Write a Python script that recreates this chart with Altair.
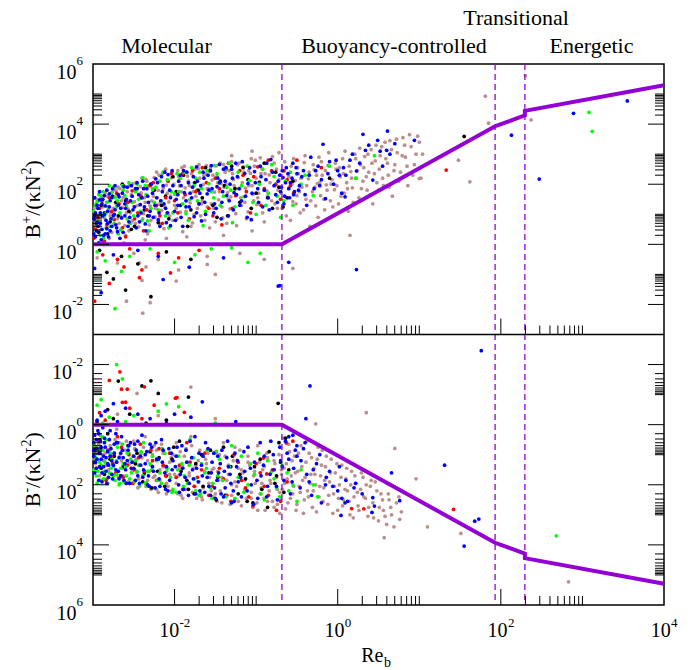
import altair as alt
import pandas as pd

FONT = "Liberation Serif"
VIOLET = "#9400d3"
SERIES_NAMES = ["brown", "black", "red", "green", "blue"]
SERIES_COLORS = ["#bc8f8f", "#000000", "#ff0000", "#00ff00", "#0000ff"]

W, PH = 571, 270.5
H = 2 * PH

# regime boundaries (Re_b) and model curve
regime_bounds = [0.207, 85.0, 197.0]
model_re = [1e-3, 0.207, 85.0, 197.0, 197.0, 1e4]
model_b = [1.0, 1.0, 8.5e3, 1.95e4, 2.75e4, 1.95e5]

# axis ticks / labels
x_decades = [1e-2, 1.0, 1e2]
y_decades = [1e-2, 1.0, 1e2, 1e4]
minor_mult = [2, 3, 4, 5, 6, 7, 8, 9, 10]
x_label_vals = [1e-2, 1.0, 1e2, 1e4]
x_label_exp = ["-2", "0", "2", "4"]
y_label_vals = [1e-2, 1.0, 1e2, 1e4, 1e6]
y_label_exp = ["-2", "0", "2", "4", "6"]

# scatter data: pairs of (log10 Re_b, log10 B)
top_brown = """
-2.98 1.21, -2.93 0.45, -2.90 1.62, -2.86 0.88, -2.83 1.40, -2.80 0.20, -2.78 1.05, -2.76 1.75,
-2.74 0.66, -2.71 1.33, -2.69 1.90, -2.66 0.95, -2.63 1.55, -2.60 0.30, -2.57 1.18, -2.55 1.97, -2.52 0.78,
-2.49 1.42, -2.47 2.05, -2.44 0.58, -2.41 1.71, -2.38 1.02, -2.35 2.16, -2.33 0.35, -2.30 1.28, -2.27 1.86,
-2.24 0.91, -2.21 1.55, -2.19 2.30, -2.16 1.13, -2.13 0.52, -2.10 1.97, -2.07 1.41, -2.04 2.21, -2.02 0.80,
-1.99 1.66, -1.96 2.45, -1.93 1.07, -1.90 0.42, -1.87 1.88, -1.84 2.27, -1.81 1.38, -1.78 0.71, -1.76 2.05,
-1.74 1.60, -1.71 2.52, -1.68 0.95, -1.65 1.99, -1.62 2.35, -1.60 1.25, -1.57 0.55, -1.54 2.14, -1.51 1.74,
-1.49 2.61, -1.46 1.48, -1.43 2.02, -1.41 0.88, -1.38 2.40, -1.35 1.72, -1.32 1.18, -1.30 2.75, -1.27 1.95,
-1.24 0.62, -1.22 2.22, -1.19 1.55, -1.16 2.58, -1.13 1.87, -1.10 1.08, -1.07 2.36, -1.04 1.66, -1.01 2.80,
-0.99 1.32, -0.96 2.08, -0.93 2.52, -0.90 0.75, -0.87 1.78, -0.84 2.31, -0.81 1.45, -0.78 2.70, -0.76 1.96,
-0.74 1.20, -0.72 2.15, -0.69 1.70, -0.66 2.45, -0.63 0.95, -0.60 1.88, -0.57 2.60, -0.55 1.42, -0.52 2.12,
-0.50 1.62, -0.48 2.35, -0.46 1.05, -0.44 1.90, -0.41 2.72, -0.39 1.50, -0.36 2.18, -0.34 0.60, -0.31 1.75,
-0.29 2.48, -0.27 1.28, -0.25 2.02, -0.23 2.90, -0.21 1.62, -0.19 2.30, -0.16 1.15, -0.14 1.98, -0.12 2.62,
-0.09 1.45, -0.07 2.15, -0.04 1.82, -0.02 2.50, 0.01 1.35, 0.03 2.25, 0.06 2.85, 0.08 1.70, 0.11 2.05,
0.13 1.10, 0.16 2.42, 0.18 1.88, 0.21 3.00, 0.23 2.20, 0.26 1.55, 0.28 2.65, 0.31 2.10, 0.33 2.92,
0.36 1.80, 0.38 2.40, 0.41 3.15, 0.43 1.35, 0.46 2.78, 0.48 2.05, 0.51 2.50, 0.54 3.25, 0.56 1.95,
0.59 2.85, 0.62 2.30, 0.64 3.45, 0.67 1.60, 0.70 2.65, 0.73 3.05, 0.77 2.40, 0.80 3.55, 0.83 2.90,
0.86 1.95, 0.90 3.25, 0.94 2.65, 0.98 3.60, 1.02 2.20, 1.04 3.00, -1.05 3.10, -0.72 3.05, -1.30 2.95,
1.00 2.19, 1.48 2.80, 1.62 2.08, 1.81 4.93, 1.85 4.03, 2.30 5.61, 2.37 4.14,
-2.95 -0.45, -2.70 -0.62, -2.50 -0.30, -2.35 -0.75, -2.20 -0.50, -1.95 -0.85, -1.60 -0.40,
-1.50 -1.00, -1.20 -0.30, -0.55 -0.80, 0.15 0.30, -0.90 -0.50, -2.40 -1.20,
-2.43 -0.62, -2.59 -1.89, -2.39 -2.29, -2.30 -1.94, -1.98 -1.22, -1.60 -0.67
"""
top_brown2 = """
-2.97 0.62, -2.94 1.48, -2.89 0.95, -2.85 1.72, -2.81 1.15, -2.77 0.40, -2.73 1.58, -2.70 0.85, -2.67 1.85,
-2.64 1.22, -2.61 0.62, -2.58 1.75, -2.54 1.05, -2.51 2.02, -2.48 0.70, -2.45 1.30, -2.42 1.92, -2.39 0.85,
-2.37 1.55, -2.34 2.10, -2.31 0.65, -2.28 1.45, -2.25 2.22, -2.23 1.20, -2.20 1.80, -2.17 0.68, -2.15 2.35,
-2.12 1.25, -2.09 1.70, -2.06 0.95, -2.03 2.40, -2.00 1.30, -1.97 0.85, -1.94 1.95, -1.91 2.55, -1.89 1.55,
-1.86 1.10, -1.83 2.10, -1.80 0.60, -1.77 1.75, -1.75 2.50, -1.72 1.20, -1.69 2.20, -1.66 1.45, -1.63 0.80,
-1.61 2.62, -1.58 1.85, -1.55 1.35, -1.53 2.30, -1.50 0.75, -1.47 2.05, -1.44 2.70, -1.42 1.25, -1.39 1.90,
-1.36 0.70, -1.33 2.45, -1.31 1.58, -1.28 2.15, -1.25 1.02, -1.23 2.65, -1.20 1.85, -1.18 1.30, -1.15 2.40,
-1.12 0.85, -1.09 1.95, -1.06 2.85, -1.03 1.45, -1.00 2.20, -0.97 1.70, -0.95 2.88, -0.92 1.05, -0.89 2.35,
-0.86 1.60, -0.83 2.05, -0.80 2.92, -0.77 1.35, -0.75 2.50, -0.73 1.80, -0.70 2.30, -0.68 1.20, -0.65 2.75,
-0.62 1.55, -0.60 2.25, -0.58 0.80, -0.56 2.00, -0.54 2.85, -0.51 1.35, -0.49 2.55, -0.47 1.75, -0.45 2.20,
-0.42 1.15, -0.40 2.95, -0.38 1.95, -0.35 2.40, -0.33 1.45, -0.30 2.65, -0.28 1.90, -0.26 2.30, -0.24 0.90,
-0.22 2.05, -0.20 2.75, -0.17 1.50, -0.15 2.45, -0.13 1.80, -0.11 3.05, -0.08 2.00, -0.06 1.25, -0.03 2.70,
-0.01 1.95, 0.02 2.55, 0.04 1.60, 0.07 2.35, 0.09 3.10, 0.12 1.85, 0.14 2.60, 0.17 2.20, 0.19 1.40,
0.22 2.85, 0.24 2.45, 0.27 3.20, 0.29 1.85, 0.32 2.55, 0.35 2.25, 0.37 3.00, 0.40 1.65, 0.42 2.70,
0.45 2.35, 0.47 3.30, 0.50 1.80, 0.52 2.95, 0.55 2.20, 0.58 3.40, 0.61 2.70, 0.63 1.90, 0.66 3.15,
0.69 2.45, 0.72 3.50, 0.75 2.10, 0.79 2.95, 0.82 3.30, 0.85 2.60, 0.88 3.65, 0.92 2.30, 0.96 3.00, 1.00 3.40,
-2.88 0.10, -2.62 0.05, -2.36 0.15, -2.10 0.20, -1.85 0.25, -1.40 0.30, -1.05 0.45
"""
top_brown3 = """
-2.99 0.80, -2.96 1.35, -2.92 0.60, -2.88 1.25, -2.84 0.55, -2.82 1.60, -2.79 0.95, -2.75 1.20, -2.72 1.80,
-2.68 0.70, -2.65 1.45, -2.62 1.95, -2.59 1.05, -2.56 0.45, -2.53 1.65, -2.50 1.25, -2.46 1.85, -2.43 1.00,
-2.40 2.20, -2.36 1.40, -2.32 1.95, -2.29 0.80, -2.26 1.60, -2.22 2.40, -2.18 1.35, -2.14 1.85, -2.11 2.50,
-2.08 1.05, -2.05 1.60, -2.01 2.00, -1.98 1.20, -1.95 2.25, -1.92 1.75, -1.88 2.60, -1.85 1.45, -1.82 1.95,
-1.79 2.35, -1.76 1.00, -1.73 1.80, -1.70 2.65, -1.67 1.35, -1.64 2.30, -1.60 1.85, -1.56 2.55, -1.52 1.20,
-1.48 2.25, -1.45 1.75, -1.40 2.65, -1.37 2.00, -1.34 1.50, -1.29 2.35, -1.26 1.85, -1.21 2.70, -1.17 2.05,
-1.14 1.40, -1.09 2.45, -1.05 1.95, -1.02 2.60, -0.98 1.55, -0.94 2.35
"""
top_blue = """
-2.99 0.35, -2.97 1.05, -2.95 0.72, -2.92 1.48, -2.90 0.15, -2.88 0.95, -2.85 1.28, -2.83 0.52, -2.80 1.68,
-2.78 0.85, -2.73 1.15, -2.70 0.42, -2.68 1.58, -2.65 0.88, -2.62 1.92, -2.60 1.20, -2.57 0.60, -2.54 1.45,
-2.48 1.85, -2.45 0.95, -2.42 1.32, -2.39 2.10, -2.36 0.68, -2.33 1.60, -2.30 1.10, -2.23 2.18, -2.20 0.82,
-2.17 1.45, -2.14 1.95, -2.11 1.20, -2.08 2.32, -2.05 0.62, -1.98 1.50, -1.95 2.10, -1.92 0.90, -1.88 1.72,
-1.85 2.40, -1.82 1.25, -1.78 1.90, -1.73 2.58, -1.70 1.35, -1.67 0.78, -1.64 2.20, -1.60 1.68, -1.56 2.45,
-1.52 1.05, -1.48 1.92, -1.45 2.66, -1.42 1.40, -1.38 2.10, -1.34 0.95, -1.30 2.50, -1.27 1.72, -1.23 2.25,
-1.20 1.30, -1.17 2.75, -1.13 1.60, -1.10 2.02, -1.06 0.82, -1.02 2.42, -0.98 1.85, -0.95 2.60, -0.92 1.25,
-0.88 2.15, -0.85 1.55, -0.82 2.82, -0.78 1.95, -0.74 1.40, -0.71 2.30, -0.69 1.90, -0.67 2.22, -0.65 1.60,
-0.63 2.55, -0.60 1.85, -0.58 2.05, -0.55 2.70, -0.53 1.75, -0.50 2.35, -0.47 1.95, -0.42 2.45, -0.38 1.30,
-0.33 2.90, -0.29 1.85, -0.24 2.60, -0.20 2.15, -0.15 1.52, -0.10 2.75, -0.05 2.00, 0.00 2.45, 0.05 1.70,
0.10 2.30, -0.18 3.33, 0.31 3.66, 0.49 3.46, 0.61 3.77, 0.60 3.13, 0.34 3.13, 0.94 3.46, 0.23 2.44,
0.09 1.58, 0.43 2.14, 0.02 2.30, 0.64 3.00, 0.15 2.80, 0.55 2.60,
2.13 3.63, 2.47 2.17, 2.89 4.36, 3.55 4.77,
-2.90 -1.61, -2.14 -1.17, -1.82 -0.76, -0.60 -0.60, -0.73 -1.39, -2.75 -0.35, -2.45 -0.20, -1.40 -0.45,
-0.71 -1.37, 0.23 -0.84, -2.98 -0.80, -2.20 -0.40
"""
top_blue2 = """
-2.99 0.85, -2.98 1.55, -2.96 0.45, -2.94 1.20, -2.93 0.05, -2.91 0.70, -2.89 1.35, -2.87 0.30, -2.86 1.62,
-2.84 0.80, -2.82 1.10, -2.81 0.25, -2.79 1.45, -2.77 0.60, -2.76 1.85, -2.74 1.00, -2.72 0.65, -2.69 1.30,
-2.67 0.20, -2.64 1.70, -2.61 0.95, -2.59 1.50, -2.56 0.75, -2.53 1.95, -2.51 1.15, -2.47 0.55, -2.44 1.65,
-2.41 1.05, -2.38 1.85, -2.35 0.45, -2.32 1.40, -2.29 2.00, -2.26 0.90, -2.22 1.55, -2.19 1.05, -2.16 2.25,
-2.13 1.35, -2.10 0.72, -2.06 1.80, -2.03 2.45, -2.00 1.10, -1.96 1.65, -1.93 2.30, -1.90 0.60, -1.86 1.45,
-1.83 2.05, -1.79 1.55, -1.76 0.92, -1.72 2.10, -1.69 1.70, -1.65 2.40, -1.62 1.00, -1.58 1.80, -1.55 2.62,
-1.51 1.35, -1.47 2.20, -1.43 0.85, -1.40 2.50, -1.36 1.62, -1.32 2.00, -1.28 1.15, -1.25 2.70, -1.21 1.85,
-1.18 1.45, -1.14 2.35, -1.11 0.90, -1.08 2.55, -1.05 1.70, -1.01 2.05, -0.97 1.40, -0.94 2.25, -0.90 1.80,
-0.87 2.70, -0.84 1.15, -0.80 2.40, -0.76 1.65, -0.73 2.10, -0.70 1.75, -0.68 2.45, -0.66 1.35, -0.64 2.05,
-0.61 2.35, -0.59 1.55, -0.56 2.20, -0.54 1.65, -0.51 2.55, -0.48 1.80, -0.44 2.25, -0.40 1.65, -0.35 2.30,
-0.27 2.45, -0.22 1.95, -0.12 2.35, -0.02 2.80, 0.07 2.55, 0.18 3.00, 0.27 2.70, 0.38 3.30, 0.52 3.10, 0.70 3.35
"""
top_blue3 = """
-2.98 0.95, -2.97 0.25, -2.95 1.30, -2.94 0.60, -2.92 1.75, -2.91 1.05, -2.89 0.50, -2.88 1.50, -2.86 1.00,
-2.85 0.35, -2.83 1.80, -2.82 0.70, -2.80 1.25, -2.79 0.45, -2.77 1.55, -2.75 0.95, -2.73 1.95, -2.71 0.55,
-2.69 1.65, -2.66 1.20, -2.63 0.40, -2.61 1.35, -2.58 1.90, -2.55 0.90, -2.52 1.60, -2.49 1.25, -2.46 2.05,
-2.43 0.75, -2.40 1.55, -2.37 1.25, -2.34 1.85, -2.31 0.95, -2.27 1.70, -2.24 1.30, -2.21 2.05, -2.18 0.60,
-2.15 1.75, -2.12 2.40, -2.09 1.05, -2.05 1.55, -2.02 1.95, -1.99 0.80, -1.96 1.30, -1.92 1.95, -1.89 2.45,
-1.86 1.25, -1.81 1.70, -1.77 2.25, -1.73 1.05, -1.68 1.95, -1.63 1.40, -1.59 2.30, -1.54 1.85, -1.49 1.20,
-1.45 2.05, -1.41 1.75, -1.37 2.55, -1.33 1.45, -1.29 2.20, -1.24 1.65
"""
top_green = """
-2.98 0.85, -2.95 1.42, -2.91 0.30, -2.88 1.75, -2.84 1.05, -2.79 0.60, -2.75 1.90, -2.71 1.25, -2.66 0.48,
-2.61 1.62, -2.56 2.05, -2.50 0.95, -2.44 1.50, -2.39 2.22, -2.33 0.78, -2.27 1.82, -2.20 1.15, -2.14 2.40,
-2.07 0.55, -2.00 1.68, -1.93 2.20, -1.86 1.02, -1.79 2.55, -1.72 1.45, -1.65 0.62, -1.58 2.02, -1.51 2.62,
-1.44 1.30, -1.36 1.90, -1.29 0.72, -1.22 2.40, -1.15 1.58, -1.08 2.12, -1.00 1.00, -0.92 2.50, -0.85 1.70,
-0.78 2.25, -0.70 0.90, -0.66 1.45, -0.58 2.40, -0.45 2.00, -0.30 1.62, 0.22 2.20, 0.45 2.95,
-2.73 -2.14, -2.95 -0.25, -2.85 -0.55, -2.55 -0.40, -2.30 -0.15, -2.00 -0.60, -1.75 -0.35, -1.30 -0.12,
-2.65 -0.90, -1.10 -0.60, -0.95 -0.30, -1.55 -0.15,
3.08 4.39, 3.12 3.76
"""
top_green2 = """
-2.99 1.10, -2.96 0.60, -2.93 1.65, -2.90 1.00, -2.87 0.20, -2.83 1.40, -2.80 1.95, -2.77 0.85, -2.73 1.55,
-2.69 0.35, -2.64 1.95, -2.59 1.30, -2.54 0.70, -2.48 1.75, -2.42 1.10, -2.36 1.95, -2.31 0.45, -2.25 1.40,
-2.18 2.10, -2.11 0.95, -2.04 1.75, -1.97 2.35, -1.90 1.35, -1.83 0.80, -1.76 1.95, -1.69 2.40, -1.62 1.10,
-1.55 1.75, -1.48 2.35, -1.40 1.60, -1.33 2.70, -1.26 1.25, -1.18 1.95, -1.11 2.60, -1.04 1.40, -0.96 2.00,
-0.88 1.30, -0.81 2.65, -0.74 1.60, -0.64 2.10, -0.55 1.30, -0.40 2.30, -0.10 2.60
"""
top_green3 = """
-2.97 1.30, -2.94 0.75, -2.90 1.55, -2.86 0.95, -2.82 1.25, -2.78 1.70, -2.74 0.70, -2.70 1.45, -2.67 1.05,
-2.63 1.80, -2.58 0.85, -2.52 1.40, -2.46 2.00, -2.40 0.80, -2.35 1.65, -2.29 1.20, -2.23 1.90, -2.16 1.45,
-2.09 2.15, -2.02 1.05, -1.95 1.75, -1.88 2.40, -1.81 1.50, -1.74 2.20, -1.67 1.85, -1.60 2.45, -1.52 1.55,
-1.45 2.05, -1.38 2.50, -1.31 1.80
"""
top_red = """
-2.97 0.55, -2.92 1.20, -2.86 0.10, -2.80 1.55, -2.74 0.82, -2.68 1.35, -2.60 0.25, -2.52 1.78, -2.45 1.05,
-2.38 0.45, -2.30 1.95, -2.22 1.30, -2.15 0.70, -2.08 2.10, -2.00 1.45, -1.90 2.35, -1.82 0.85, -1.74 1.75,
-1.66 2.55, -1.58 1.20, -1.50 2.20, -1.42 0.65, -1.34 2.70, -1.25 1.62, -1.16 2.30, -1.07 1.05, -0.98 2.58,
-0.90 1.85, -0.81 2.45, -0.70 1.50, -0.62 2.15, -0.50 2.80, -0.20 2.55, -0.58 1.95,
1.33 2.47,
-2.98 -1.89, -2.43 -1.11, -2.40 -0.85, -2.88 -0.35, -2.70 -0.50, -2.55 -0.15, -2.20 -0.30, -1.95 -0.45,
-2.80 -1.30, -2.62 -0.75, -1.70 -0.20, -2.05 -0.95
"""
top_red2 = """
-2.99 0.20, -2.94 0.90, -2.89 1.45, -2.83 0.65, -2.77 1.10, -2.71 1.70, -2.64 0.55, -2.57 1.40, -2.49 0.85,
-2.41 1.60, -2.34 1.15, -2.26 2.05, -2.18 0.95, -2.11 1.55, -2.04 2.35, -1.96 1.05, -1.87 1.65, -1.78 2.45,
-1.70 1.35, -1.61 2.05, -1.53 0.95, -1.45 1.85, -1.37 2.50, -1.29 1.20, -1.20 2.45, -1.12 1.75, -1.03 2.25,
-0.94 1.30, -0.85 2.80, -0.76 2.00, -0.66 2.45, -0.54 1.70
"""
top_black = """
-2.96 0.70, -2.90 1.30, -2.82 0.35, -2.76 1.60, -2.69 0.95, -2.60 1.45, -2.53 0.50, -2.46 1.85, -2.37 1.15,
-2.29 2.00, -2.20 0.72, -2.11 1.60, -2.02 2.25, -1.93 1.30, -1.84 0.60, -1.75 2.05, -1.66 1.55, -1.57 2.45,
-1.48 0.90, -1.39 1.95, -1.30 2.60, -1.20 1.40, -1.10 2.15, -1.00 1.70, -0.90 2.70, -0.80 1.20, -0.72 1.90,
-0.62 1.55, -0.55 2.10, -0.10 2.20,
1.55 3.59,
-2.60 -1.52, -2.29 -1.74, -2.83 -0.93, -2.92 -0.20, -2.65 -0.40, -2.45 -0.65, -2.10 -0.25, -1.80 -0.50,
-2.75 -1.15
"""
top_black2 = """
-2.98 1.55, -2.93 0.40, -2.86 1.05, -2.79 0.75, -2.72 1.40, -2.64 2.00, -2.56 1.10, -2.49 0.60, -2.41 1.55,
-2.33 0.95, -2.25 1.80, -2.16 1.30, -2.07 0.85, -1.98 1.75, -1.89 2.30, -1.80 1.15, -1.71 1.80, -1.62 2.55,
-1.53 1.30, -1.44 2.10, -1.35 0.95, -1.26 1.85, -1.16 2.55, -1.06 1.20, -0.96 2.05, -0.86 1.55, -0.76 2.40,
-0.67 1.25
"""

bot_brown = """
-2.98 0.90, -2.95 1.55, -2.91 0.35, -2.87 1.20, -2.83 1.80, -2.79 0.70, -2.75 1.40, -2.71 0.15, -2.67 1.05,
-2.63 1.70, -2.59 0.55, -2.55 1.30, -2.52 1.95, -2.49 0.80, -2.46 1.60, -2.43 2.05, -2.40 1.10, -2.36 0.40,
-2.33 1.85, -2.29 1.35, -2.25 0.70, -2.22 2.15, -2.18 1.50, -2.14 0.95, -2.10 1.95, -2.06 1.25, -2.02 2.20,
-1.98 0.60, -1.95 1.70, -1.92 2.35, -1.88 1.05, -1.84 1.90, -1.80 0.40, -1.77 1.45, -1.73 2.45, -1.69 0.85,
-1.65 2.10, -1.61 1.30, -1.57 1.75, -1.53 2.40, -1.50 0.95, -1.47 1.55, -1.44 2.20, -1.40 0.60, -1.36 1.85,
-1.32 2.65, -1.28 1.20, -1.24 2.05, -1.20 0.85, -1.16 1.60, -1.12 2.45, -1.08 1.35, -1.04 2.75, -1.01 1.95,
-0.98 0.70, -0.95 2.30, -0.92 1.50, -0.89 2.85, -0.86 1.10, -0.83 1.85, -0.80 2.55, -0.77 1.30, -0.74 2.15,
-0.71 2.95, -0.69 1.65, -0.67 0.45, -0.65 1.95, -0.63 1.30, -0.61 2.60, -0.59 0.90, -0.57 1.70, -0.55 2.30,
-0.53 1.05, -0.51 2.85, -0.49 1.55, -0.47 2.05, -0.45 0.70, -0.43 1.85, -0.41 2.50, -0.39 1.25, -0.37 2.20,
-0.35 0.95, -0.33 1.65, -0.31 2.75, -0.29 1.45, -0.27 2.00, -0.25 1.15, -0.23 2.40, -0.21 1.70, -0.19 0.85,
-0.17 2.10, -0.15 1.40, -0.12 2.65, -0.10 1.90, -0.08 1.15, -0.05 2.30, -0.03 1.60, 0.00 2.85, 0.02 2.00,
0.05 1.35, 0.07 2.50, 0.10 1.80, 0.12 2.20, 0.15 3.00, 0.17 1.55, 0.20 2.40, 0.22 1.95, 0.25 2.70,
0.28 2.15, 0.31 1.75, 0.34 2.45, 0.37 3.05, 0.40 2.05, 0.43 2.60, 0.46 1.90, 0.50 3.20, 0.53 2.30,
0.56 2.85, 0.60 3.32, 0.63 2.50, 0.66 3.00, 0.70 0.79, 0.57 3.76, 0.78 2.90, 0.75 2.40,
-0.27 -0.03, 0.35 -0.40, 0.96 1.80, 1.10 3.40, 1.51 3.62, 2.83 5.23,
-1.80 -1.25, -2.46 -1.04, -2.20 -0.30, -1.50 -0.20, -2.70 -0.35
"""
bot_brown2 = """
-2.97 1.30, -2.93 0.65, -2.89 1.85, -2.85 0.95, -2.81 1.50, -2.77 1.05, -2.73 0.50, -2.69 1.75, -2.65 1.20,
-2.61 0.85, -2.57 1.90, -2.53 1.45, -2.50 0.55, -2.47 1.15, -2.44 1.80, -2.41 1.35, -2.38 0.75, -2.35 2.05,
-2.31 1.55, -2.27 1.00, -2.24 1.70, -2.20 2.25, -2.16 0.65, -2.12 1.40, -2.08 2.05, -2.04 1.10, -2.00 1.65,
-1.96 2.30, -1.93 0.90, -1.90 1.40, -1.86 2.15, -1.82 1.60, -1.79 0.70, -1.75 2.05, -1.71 1.20, -1.67 2.40,
-1.63 1.55, -1.59 0.95, -1.55 2.20, -1.52 1.45, -1.48 2.55, -1.45 1.00, -1.42 1.75, -1.38 2.35, -1.34 1.35,
-1.30 2.00, -1.26 0.75, -1.22 2.55, -1.18 1.50, -1.14 2.15, -1.10 1.05, -1.06 2.45, -1.03 1.70, -0.99 2.60,
-0.96 1.25, -0.93 1.95, -0.90 2.45, -0.87 0.95, -0.84 2.20, -0.81 1.55, -0.78 2.75, -0.75 1.75, -0.72 1.00,
-0.70 2.50, -0.68 2.15, -0.66 1.45, -0.64 2.80, -0.62 1.80, -0.60 0.65, -0.58 2.45, -0.56 1.20, -0.54 2.05,
-0.52 1.60, -0.50 2.65, -0.48 0.95, -0.46 2.25, -0.44 1.40, -0.42 2.95, -0.40 1.75, -0.38 0.55, -0.36 2.40,
-0.34 1.95, -0.32 1.10, -0.30 2.20, -0.28 1.65, -0.26 2.90, -0.24 0.75, -0.22 2.05, -0.20 1.35, -0.18 2.55,
-0.16 1.85, -0.14 1.05, -0.11 2.35, -0.09 1.60, -0.06 2.95, -0.04 2.05, -0.01 1.30, 0.01 2.45, 0.04 1.75,
0.06 2.70, 0.09 2.15, 0.11 1.45, 0.14 2.55, 0.16 2.00, 0.19 3.10, 0.21 1.70, 0.24 2.25, 0.26 2.85,
0.29 1.60, 0.32 2.40, 0.35 2.00, 0.38 2.75, 0.41 1.85, 0.44 3.10, 0.48 2.20, 0.51 2.75, 0.55 2.50,
0.58 3.05, 0.62 2.30, 0.65 2.75, 0.69 3.40, 0.72 2.60, 0.76 3.15
"""
bot_brown3 = """
-2.99 1.15, -2.96 0.75, -2.92 1.70, -2.88 1.00, -2.84 1.35, -2.80 0.85, -2.76 1.65, -2.72 1.25, -2.68 0.60,
-2.64 1.45, -2.60 1.95, -2.56 0.95, -2.52 1.55, -2.48 1.30, -2.45 2.10, -2.41 0.95, -2.37 1.65, -2.33 1.20,
-2.29 2.15, -2.26 1.75, -2.22 0.85, -2.18 1.85, -2.14 1.40, -2.10 2.30, -2.06 1.65, -2.02 1.00, -1.98 1.95,
-1.94 1.45, -1.90 2.45, -1.86 0.80, -1.82 1.70, -1.78 2.25, -1.74 1.35, -1.70 1.90, -1.66 2.50, -1.62 1.15,
-1.58 1.95, -1.54 1.50, -1.50 2.30, -1.46 1.85, -1.42 2.60, -1.38 1.05, -1.34 1.65, -1.30 2.35, -1.26 1.90,
-1.22 1.45, -1.18 2.70, -1.14 1.85, -1.10 1.25, -1.06 2.25, -1.02 1.55, -0.98 2.85, -0.94 2.10, -0.90 1.40,
-0.86 2.55, -0.82 1.95, -0.78 1.20, -0.74 2.65, -0.71 2.25, -0.69 1.50
"""
bot_blue = """
-2.99 0.60, -2.97 1.25, -2.94 0.20, -2.92 0.95, -2.89 1.60, -2.86 0.45, -2.84 1.10, -2.81 1.75, -2.78 0.80,
-2.75 1.35, -2.72 0.30, -2.69 1.55, -2.66 0.95, -2.62 1.85, -2.58 1.20, -2.54 0.60, -2.50 1.45, -2.47 0.85,
-2.43 1.95, -2.40 0.35, -2.36 1.30, -2.32 1.70, -2.28 0.75, -2.24 2.10, -2.20 1.15, -2.16 0.50, -2.12 1.60,
-2.08 2.20, -2.04 0.95, -1.99 1.40, -1.95 2.00, -1.91 0.70, -1.87 1.75, -1.83 2.35, -1.79 1.10, -1.75 0.40,
-1.71 1.90, -1.67 1.35, -1.63 2.25, -1.59 0.80, -1.55 1.60, -1.51 2.10, -1.47 1.05, -1.43 2.30, -1.39 1.55,
-1.35 0.55, -1.31 1.95, -1.27 2.55, -1.23 1.20, -1.19 1.75, -1.15 0.90, -1.11 2.20, -1.07 1.45, -1.03 2.65,
-0.99 1.85, -0.95 0.60, -0.91 1.35, -0.87 2.40, -0.83 1.65, -0.79 1.00, -0.75 2.05, -0.71 0.75, -0.68 1.40,
-0.64 0.55, -0.60 1.15, -0.56 1.90, -0.52 0.85,
-0.39 -0.20, -0.34 -1.29, 0.66 1.60, 1.31 1.35, 0.76 2.53, 1.68 3.21, 1.73 3.14, 1.55 4.04, 1.76 -2.46,
-0.55 0.35, -0.50 0.70, -0.45 1.20, -0.40 0.60, -0.30 1.50, -0.22 1.00, -0.15 2.00, -0.10 1.55, 0.00 2.20,
0.10 1.85, 0.20 2.10, -0.60 0.40, -0.35 1.90, 0.05 2.45, 0.43 2.43, 0.45 2.71, 0.42 2.92, 0.09 2.60, 0.04 3.02,
-1.66 -0.76, -2.90 -0.30, -2.60 -0.55, -2.30 -0.20, -2.00 -0.35, -1.25 -0.10, -2.75 -0.70,
-2.95 -0.15, -2.85 -0.45, -2.70 -0.10, -2.45 -0.35, -2.10 -0.05, -1.80 -0.25
"""
bot_blue2 = """
-2.99 1.05, -2.98 0.35, -2.96 1.45, -2.95 0.80, -2.93 1.85, -2.91 0.55, -2.90 1.15, -2.88 0.10, -2.87 1.40,
-2.85 0.75, -2.83 1.95, -2.82 1.30, -2.80 0.50, -2.79 1.05, -2.77 1.65, -2.74 0.65, -2.71 1.25, -2.68 1.80,
-2.65 0.40, -2.63 1.10, -2.60 1.50, -2.57 0.85, -2.55 1.95, -2.52 1.25, -2.49 0.65, -2.45 1.70, -2.42 1.05,
-2.38 1.50, -2.34 0.90, -2.31 2.05, -2.27 1.40, -2.23 0.60, -2.19 1.80, -2.15 1.25, -2.11 2.15, -2.07 0.80,
-2.03 1.50, -1.98 1.05, -1.94 2.25, -1.90 1.45, -1.86 0.85, -1.82 1.95, -1.78 1.50, -1.74 2.30, -1.70 0.95,
-1.66 1.70, -1.62 0.60, -1.58 2.05, -1.54 1.25, -1.50 2.45, -1.46 1.60, -1.42 0.85, -1.38 2.10, -1.34 1.40,
-1.30 2.60, -1.26 0.95, -1.22 1.90, -1.18 2.40, -1.14 1.55, -1.10 0.75, -1.06 2.00, -1.02 1.25, -0.98 2.45,
-0.94 1.70, -0.90 1.05, -0.86 2.05, -0.82 0.55, -0.78 1.50, -0.74 2.50, -0.70 1.20, -0.66 1.85, -0.62 0.95,
-0.58 2.30, -0.54 1.45, -0.50 1.05, -0.46 2.10, -0.42 0.80, -0.38 1.65, -0.32 2.35, -0.26 1.30, -0.20 2.60,
-0.14 1.75, -0.06 2.05, 0.02 1.40, 0.12 2.55, 0.22 1.95, 0.30 2.30
"""
bot_blue3 = """
-2.99 0.85, -2.98 1.60, -2.96 0.50, -2.95 1.15, -2.93 0.30, -2.92 1.40, -2.90 0.75, -2.89 1.90, -2.87 1.05,
-2.86 0.60, -2.84 1.55, -2.82 0.90, -2.81 1.35, -2.79 0.20, -2.77 1.20, -2.76 1.80, -2.74 0.95, -2.72 1.50,
-2.70 0.60, -2.68 1.10, -2.66 1.70, -2.64 0.85, -2.61 1.30, -2.59 1.95, -2.56 0.70, -2.53 1.45, -2.50 1.05,
-2.48 1.85, -2.45 0.55, -2.42 1.35, -2.39 1.75, -2.36 1.00, -2.33 2.00, -2.30 0.65, -2.26 1.55, -2.22 1.15,
-2.18 2.05, -2.14 0.85, -2.10 1.40, -2.06 1.85, -2.02 1.20, -1.97 0.75, -1.93 1.65, -1.89 2.15, -1.85 1.25,
-1.81 0.55, -1.77 1.80, -1.73 1.45, -1.69 2.20, -1.65 1.05, -1.60 1.75, -1.56 2.35, -1.52 0.95, -1.48 1.85,
-1.44 1.30, -1.40 2.40, -1.36 1.10, -1.32 1.65, -1.28 2.20, -1.24 1.40
"""
bot_green = """
-2.99 1.50, -2.96 1.70, -2.93 0.90, -2.90 1.35, -2.87 1.80, -2.84 0.50, -2.80 1.60, -2.77 1.15, -2.73 1.85,
-2.70 0.75, -2.66 1.45, -2.62 1.90, -2.58 0.95, -2.53 1.60, -2.48 1.20, -2.43 2.00, -2.38 0.60, -2.33 1.55,
-2.27 1.05, -2.21 1.85, -2.15 0.80, -2.09 1.45, -2.02 2.15, -1.95 1.05, -1.88 1.70, -1.81 0.50, -1.74 2.20,
-1.67 1.30, -1.60 0.85, -1.53 1.95, -1.45 1.15, -1.37 2.40, -1.30 0.70, -1.22 1.75, -1.15 2.25, -1.07 1.30,
-0.98 0.95, -0.90 2.50, -0.82 1.60, -0.75 2.10, -0.68 1.35, -0.60 2.20, -0.50 2.55, -0.30 2.00,
-2.71 -2.00, -2.64 -1.52, -2.90 -0.83, -2.95 -0.65, -2.10 -0.69, -2.50 -0.30, -1.95 -0.60, -2.80 -0.25,
-1.50 -0.05, -2.88 -0.05, -2.60 -0.10, -2.20 -0.45,
2.68 3.70
"""
bot_green2 = """
-2.98 0.70, -2.95 1.95, -2.92 1.25, -2.89 0.40, -2.86 1.55, -2.82 1.95, -2.79 0.95, -2.75 1.70, -2.71 1.20,
-2.68 2.00, -2.64 0.65, -2.60 1.40, -2.55 1.80, -2.51 1.05, -2.46 1.55, -2.41 0.90, -2.36 1.95, -2.30 1.30,
-2.24 2.10, -2.18 1.60, -2.12 0.95, -2.05 1.75, -1.98 2.25, -1.91 1.30, -1.84 1.95, -1.77 1.10, -1.70 2.35,
-1.63 1.60, -1.56 2.10, -1.49 0.90, -1.41 1.85, -1.33 1.40, -1.26 2.45, -1.18 1.05, -1.10 2.00, -1.02 1.65,
-0.94 2.30, -0.86 1.20, -0.78 1.80, -0.71 2.40, -0.62 1.60, -0.55 2.00, -0.45 1.50, -0.25 2.40
"""
bot_green3 = """
-2.97 1.10, -2.94 1.55, -2.91 1.85, -2.88 0.85, -2.85 1.25, -2.81 1.75, -2.78 1.45, -2.74 0.95, -2.71 1.65,
-2.67 1.95, -2.63 1.30, -2.59 1.70, -2.54 1.15, -2.49 1.90, -2.44 1.35, -2.39 1.70, -2.34 2.05, -2.28 1.50,
-2.22 1.20, -2.16 1.95, -2.10 1.55, -2.03 2.25, -1.96 1.50, -1.89 2.05, -1.82 1.35, -1.75 1.80, -1.68 2.30,
-1.61 1.45, -1.54 2.45, -1.47 1.70
"""
bot_red = """
-2.98 1.10, -2.93 0.55, -2.88 1.60, -2.82 0.85, -2.76 1.30, -2.70 0.40, -2.63 1.75, -2.56 1.00, -2.49 1.50,
-2.42 0.65, -2.35 1.95, -2.27 1.20, -2.19 0.80, -2.11 1.70, -2.03 2.20, -1.94 1.35, -1.85 0.60, -1.76 2.05,
-1.67 1.50, -1.58 2.35, -1.49 0.90, -1.40 1.80, -1.31 2.55, -1.22 1.25, -1.13 2.10, -1.04 2.70, -0.95 1.60,
-0.85 2.35, -0.75 2.85, -0.62 1.90, -0.55 0.55, -0.63 0.61, -0.91 1.11, -0.87 1.64, 0.17 2.79, 0.32 2.80,
1.42 2.82,
-2.67 -1.76, -2.80 -1.47, -2.65 -1.18, -2.58 -1.18, -2.37 -1.26, -2.64 -0.74, -2.60 -0.75, -1.99 -0.88,
-1.97 -0.90, -1.88 -0.41, -2.92 -0.40, -2.40 -0.20, -2.85 -0.15, -2.55 -0.55, -2.25 -0.65
"""
bot_red2 = """
-2.96 1.45, -2.90 0.80, -2.84 1.85, -2.78 1.05, -2.72 1.60, -2.65 0.75, -2.58 1.35, -2.51 1.95, -2.44 1.10,
-2.37 1.55, -2.29 0.85, -2.22 1.85, -2.14 1.35, -2.06 0.95, -1.98 1.75, -1.90 2.15, -1.81 1.25, -1.72 1.75,
-1.63 0.95, -1.54 2.05, -1.45 1.45, -1.36 2.35, -1.27 1.00, -1.18 1.85, -1.09 2.40, -1.00 1.30, -0.90 2.05,
-0.80 1.50, -0.70 2.55
"""
bot_black = """
-2.97 0.80, -2.90 1.45, -2.82 0.30, -2.74 1.05, -2.66 1.70, -2.57 0.70, -2.48 1.30, -2.39 1.90, -2.30 0.90,
-2.21 1.55, -2.12 2.05, -2.03 1.15, -1.94 0.55, -1.85 1.85, -1.76 2.30, -1.67 1.00, -1.58 1.60, -1.49 2.50,
-1.40 0.75, -1.31 1.40, -1.22 2.30, -1.13 1.80, -1.04 2.60, -0.95 1.15, -0.86 2.75, -0.77 1.95, -0.70 1.25,
-0.64 0.45, -0.72 0.60, -0.60 1.50,
-2.69 -1.45, -2.40 -1.29, -2.29 -1.46, -2.20 -1.04, -1.83 -0.92, -0.73 -0.71, -2.82 -0.50, -2.55 -0.35,
-2.10 -0.15, -2.95 -0.10, -2.75 -0.20, -2.35 -0.05
"""
bot_black2 = """
-2.98 1.25, -2.92 0.50, -2.86 1.65, -2.79 1.15, -2.71 0.60, -2.63 1.40, -2.55 1.95, -2.46 0.95, -2.37 1.60,
-2.28 2.10, -2.19 1.10, -2.10 1.70, -2.01 0.75, -1.92 1.55, -1.83 2.15, -1.74 1.30, -1.65 2.05, -1.56 0.85,
-1.47 1.75, -1.38 2.35, -1.29 1.05, -1.20 1.65, -1.11 2.55, -1.02 1.40, -0.93 2.15, -0.84 0.90, -0.75 1.70,
-0.66 2.25
"""


def parse(s, series):
    v = [float(t) for t in s.replace(",", " ").split()]
    return pd.DataFrame({"re": [10 ** a for a in v[0::2]],
                         "b": [10 ** a for a in v[1::2]],
                         "series": series})


top_df = pd.concat([parse(top_brown + top_brown2 + top_brown3, "brown"),
                    parse(top_black + top_black2, "black"),
                    parse(top_red + top_red2, "red"),
                    parse(top_green + top_green2 + top_green3, "green"),
                    parse(top_blue + top_blue2 + top_blue3, "blue")], ignore_index=True)
bot_df = pd.concat([parse(bot_brown + bot_brown2 + bot_brown3, "brown"),
                    parse(bot_black + bot_black2, "black"),
                    parse(bot_red + bot_red2, "red"),
                    parse(bot_green + bot_green2 + bot_green3, "green"),
                    parse(bot_blue + bot_blue2 + bot_blue3, "blue")], ignore_index=True)

x_scale = alt.Scale(type="log", domain=[1e-3, 1e4], nice=False, range=[0, W])
y_top = alt.Scale(type="log", domain=[1e-3, 1e6], nice=False, range=[PH, 0])
y_bot = alt.Scale(type="log", domain=[1e-3, 1e6], nice=False, range=[PH, H])
color_scale = alt.Scale(domain=SERIES_NAMES, range=SERIES_COLORS)

layers = []

# scatter points
for df, ys in ((top_df, y_top), (bot_df, y_bot)):
    layers.append(
        alt.Chart(df).mark_circle(size=14, opacity=1).encode(
            x=alt.X("re:Q", scale=x_scale, axis=None),
            y=alt.Y("b:Q", scale=ys, axis=None),
            color=alt.Color("series:N", scale=color_scale, legend=None),
        )
    )

# model line
model_df = pd.DataFrame({"re": model_re, "b": model_b, "i": list(range(len(model_re)))})
for ys in (y_top, y_bot):
    layers.append(
        alt.Chart(model_df).mark_line(color=VIOLET, strokeWidth=4).encode(
            x=alt.X("re:Q", scale=x_scale, axis=None),
            y=alt.Y("b:Q", scale=ys, axis=None),
            order="i:Q",
        )
    )

# regime boundaries
layers.append(
    alt.Chart(pd.DataFrame({"re": regime_bounds})).mark_rule(
        color=VIOLET, strokeWidth=1.3, strokeDash=[6, 4]
    ).encode(x=alt.X("re:Q", scale=x_scale, axis=None), y=alt.value(0), y2=alt.value(H))
)

# panel separator
layers.append(
    alt.Chart(pd.DataFrame({"a": [0]})).mark_rule(color="black", strokeWidth=1.5).encode(
        x=alt.value(0), x2=alt.value(W), y=alt.value(PH)
    )
)

# ticks
x_minor = [m * d for d in x_decades for m in minor_mult]
y_minor = [m * d for d in y_decades for m in minor_mult]
for vals, ln in ((x_decades, 16), (x_minor, 9)):
    for base_y in (PH, H):
        layers.append(
            alt.Chart(pd.DataFrame({"v": vals})).mark_rule(color="black", strokeWidth=1).encode(
                x=alt.X("v:Q", scale=x_scale, axis=None), y=alt.value(base_y), y2=alt.value(base_y - ln)
            )
        )
for vals, ln in ((y_decades, 16), (y_minor, 9)):
    for ys in (y_top, y_bot):
        for x0, x1 in ((0, ln), (W, W - ln)):
            layers.append(
                alt.Chart(pd.DataFrame({"v": vals})).mark_rule(color="black", strokeWidth=1).encode(
                    y=alt.Y("v:Q", scale=ys, axis=None), x=alt.value(x0), x2=alt.value(x1)
                )
            )

# y tick labels
ylab_df = pd.DataFrame({"v": y_label_vals, "e": y_label_exp})
for ys in (y_top, y_bot):
    base = alt.Chart(ylab_df).encode(y=alt.Y("v:Q", scale=ys, axis=None))
    layers.append(base.transform_filter("length(datum.e) == 1").mark_text(
        text="10", align="right", baseline="middle", fontSize=20, font=FONT, dy=8.5, color="black"
    ).encode(x=alt.value(-16.5)))
    layers.append(base.transform_filter("length(datum.e) == 2").mark_text(
        text="10", align="right", baseline="middle", fontSize=20, font=FONT, dy=8.5, color="black"
    ).encode(x=alt.value(-21)))
    layers.append(base.mark_text(
        align="right", baseline="middle", fontSize=13, font=FONT, dy=-3, color="black"
    ).encode(x=alt.value(-10), text="e:N"))

# x tick labels
xlab_df = pd.DataFrame({"v": x_label_vals, "e": x_label_exp})
xb = alt.Chart(xlab_df).encode(x=alt.X("v:Q", scale=x_scale, axis=None))
for n, off in ((1, 6.75), (2, 4.6)):
    flt = f"length(datum.e) == {n}"
    layers.append(xb.transform_filter(flt).mark_text(
        text="10", align="right", baseline="middle", fontSize=20, font=FONT, dx=off, color="black"
    ).encode(y=alt.value(H + 26)))
    layers.append(xb.transform_filter(flt).mark_text(
        align="left", baseline="middle", fontSize=13, font=FONT, dx=off + 0.3, color="black"
    ).encode(y=alt.value(H + 17.5), text="e:N"))


def label(txt, x, y, size, align="center", baseline="alphabetic", angle=0):
    kw = dict(align=align, baseline=baseline, fontSize=size, font=FONT, color="black")
    if angle:
        kw["angle"] = angle
    return alt.Chart(pd.DataFrame({"t": [txt]})).mark_text(**kw).encode(
        text="t:N", x=alt.value(x), y=alt.value(y)
    )


# regime names
layers.append(label("Molecular", 73.5, -11, 22))
layers.append(label("Buoyancy-controlled", 301, -11, 22))
layers.append(label("Energetic", 498.5, -11, 22))
layers.append(label("Transitional", 423, -39, 22))

# x title
layers.append(label("Re", W / 2 + 5, H + 57, 20, align="right"))
layers.append(label("b", W / 2 + 5.5, H + 62, 14, align="left"))

# y titles (rotated, assembled piecewise for superscripts)
EM = {"B": 0.667, "+": 0.564, "-": 0.333, "/": 0.278, "(": 0.333, "κ": 0.55, "N": 0.722, "2": 0.5, ")": 0.333}


def ytitle(sign, cy):
    pieces = [("B", 22, 0), (sign, 14, -9), ("/(κN", 22, 0), ("2", 14, -9), (")", 22, 0)]
    widths = [sum(EM[c] for c in t) * s for t, s, _ in pieces]
    pos = -sum(widths) / 2
    out = []
    for (t, s, sh), w in zip(pieces, widths):
        out.append(label(t, -53 + sh, cy - pos, s, align="left", angle=270))
        pos += w
    return out


layers += ytitle("+", PH / 2)
layers += ytitle("-", PH + PH / 2)

chart = alt.layer(*layers).resolve_scale(y="independent").properties(
    width=W, height=H,
    padding={"left": 93, "top": 64, "right": 26, "bottom": 65},
    autosize=alt.AutoSizeParams(type="none"),
    background="white",
).configure_view(stroke="black", strokeWidth=1.5)

chart.save("out.html", embed_options={"renderer": "svg", "actions": False})
